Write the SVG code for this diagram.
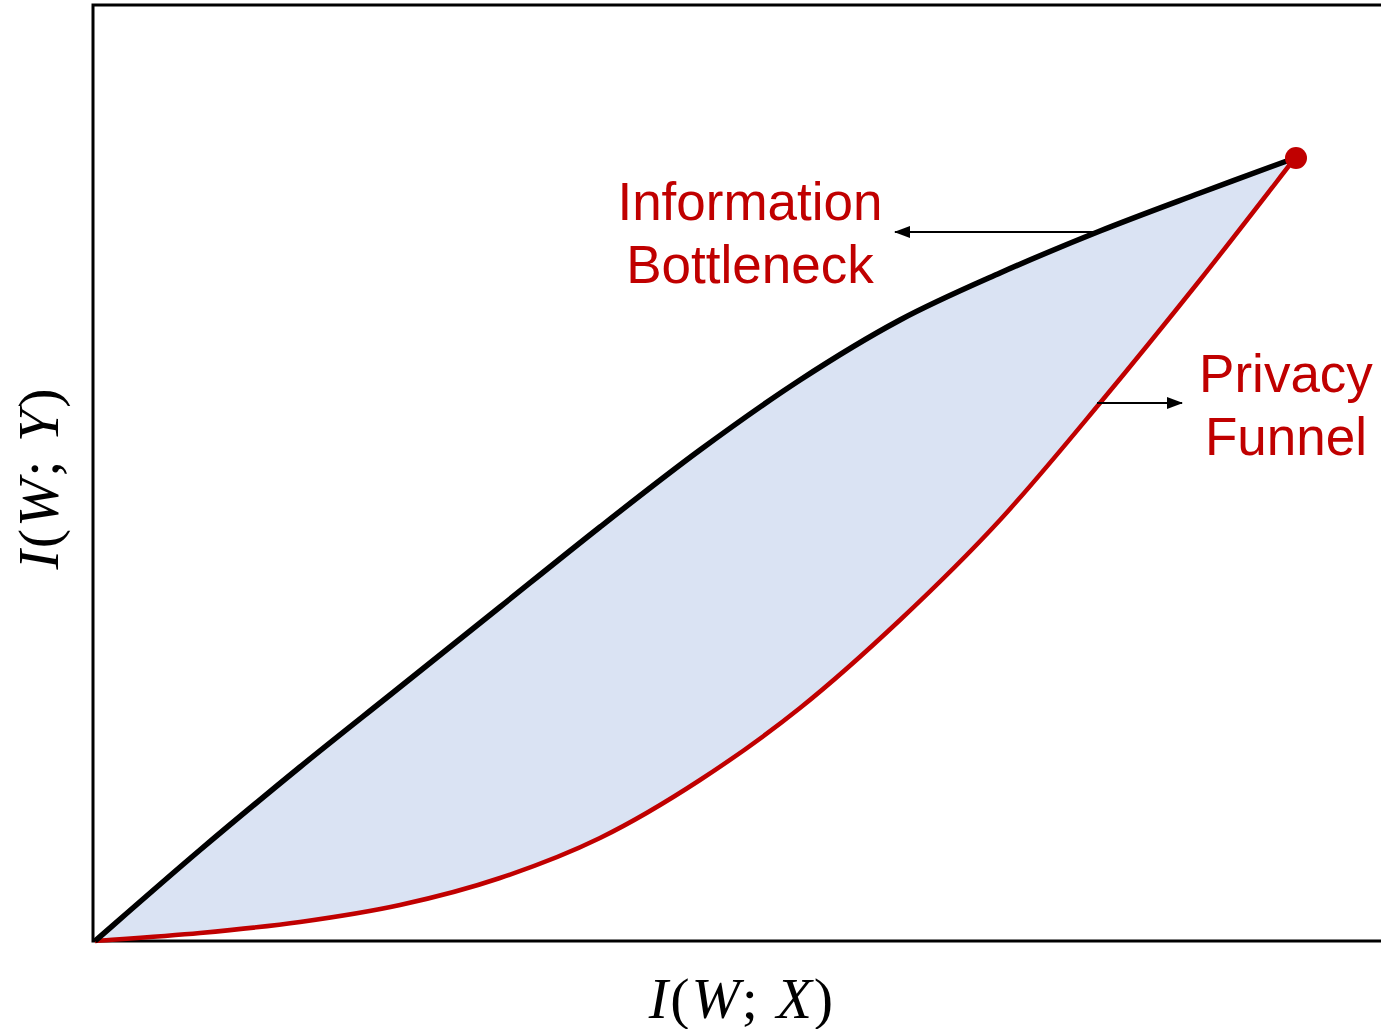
<svg xmlns="http://www.w3.org/2000/svg" width="1381" height="1029" viewBox="0 0 1381 1029">
<style>
.lbl{font-family:"Liberation Sans",Arial,sans-serif;font-size:53px;fill:#C00000;text-anchor:middle}
.ax{font-family:"Liberation Serif","Times New Roman",serif;font-size:58px;fill:#000;text-anchor:middle;letter-spacing:2px}
.it{font-style:italic}
.conn{stroke:#000;stroke-width:2;fill:none}
</style>
<defs>
<marker id="ah2" markerWidth="16" markerHeight="12" refX="15" refY="6" orient="auto" markerUnits="userSpaceOnUse" viewBox="0 0 16 12">
<path d="M0,0 L16,6 L0,12 Z" fill="#000"/>
</marker>
</defs>
<rect width="1381" height="1029" fill="#fff"/>
<g id="region">
<path d="M95,941 C112.5,925.8 165.8,879 200,850 C234.2,821 266.7,794.2 300,767 C333.3,739.8 366.7,713.7 400,687 C433.3,660.3 466.7,633.7 500,607 C533.3,580.3 566.7,553.2 600,527 C633.3,500.8 666.7,474.5 700,450 C733.3,425.5 766.7,401.7 800,380 C833.3,358.3 866.7,337.8 900,320 C933.3,302.2 966.7,287.8 1000,273 C1033.3,258.2 1066.7,244.3 1100,231 C1133.3,217.7 1167.5,205.2 1200,193 C1232.5,180.8 1279.2,163.8 1295,158 C1279.2,178.3 1232.5,239.2 1200,280 C1167.5,320.8 1133.3,363 1100,403 C1066.7,443 1033.3,483.8 1000,520 C966.7,556.2 933.3,588.7 900,620 C866.7,651.3 833.3,681.3 800,708 C766.7,734.7 733.3,758.3 700,780 C666.7,801.7 633.3,821.7 600,838 C566.7,854.3 533.3,866.8 500,878 C466.7,889.2 433.3,897.7 400,905 C366.7,912.3 333.3,917.3 300,922 C266.7,926.7 234.2,929.8 200,933 C165.8,936.2 112.5,939.7 95,941 Z" fill="#DAE3F3"/>
</g>
<g id="axes" fill="none" stroke="#000" stroke-width="3">
<path d="M1381,5 L93,5 L93,941 L1381,941"/>
</g>
<g id="privacy-funnel-curve">
<path d="M95,941 C112.5,939.7 165.8,936.2 200,933 C234.2,929.8 266.7,926.7 300,922 C333.3,917.3 366.7,912.3 400,905 C433.3,897.7 466.7,889.2 500,878 C533.3,866.8 566.7,854.3 600,838 C633.3,821.7 666.7,801.7 700,780 C733.3,758.3 766.7,734.7 800,708 C833.3,681.3 866.7,651.3 900,620 C933.3,588.7 966.7,556.2 1000,520 C1033.3,483.8 1066.7,443 1100,403 C1133.3,363 1167.5,320.8 1200,280 C1232.5,239.2 1279.2,178.3 1295,158" fill="none" stroke="#C00000" stroke-width="4.5"/>
</g>
<g id="ib-curve">
<path d="M95,941 C112.5,925.8 165.8,879 200,850 C234.2,821 266.7,794.2 300,767 C333.3,739.8 366.7,713.7 400,687 C433.3,660.3 466.7,633.7 500,607 C533.3,580.3 566.7,553.2 600,527 C633.3,500.8 666.7,474.5 700,450 C733.3,425.5 766.7,401.7 800,380 C833.3,358.3 866.7,337.8 900,320 C933.3,302.2 966.7,287.8 1000,273 C1033.3,258.2 1066.7,244.3 1100,231 C1133.3,217.7 1167.5,205.2 1200,193 C1232.5,180.8 1279.2,163.8 1295,158" fill="none" stroke="#000" stroke-width="5.5"/>
</g>
<g id="endpoint">
<circle cx="1296" cy="158" r="11" fill="#C00000"/>
</g>
<g id="connectors">
<line class="conn" x1="1097" y1="232" x2="895" y2="232" marker-end="url(#ah2)"/>
<line class="conn" x1="1097" y1="403" x2="1182" y2="403" marker-end="url(#ah2)"/>
</g>
<g id="label-ib">
<text class="lbl" x="750" y="220">Information</text>
<text class="lbl" x="750" y="283">Bottleneck</text>
</g>
<g id="label-pf">
<text class="lbl" x="1286" y="392">Privacy</text>
<text class="lbl" x="1286" y="455">Funnel</text>
</g>
<g id="xlabel">
<text class="ax" x="742" y="1018"><tspan class="it">I</tspan>(<tspan class="it">W</tspan>; <tspan class="it">X</tspan>)</text>
</g>
<g id="ylabel">
<text class="ax" transform="translate(58,478) rotate(-90)"><tspan class="it">I</tspan>(<tspan class="it">W</tspan>; <tspan class="it">Y</tspan>)</text>
</g>
</svg>
